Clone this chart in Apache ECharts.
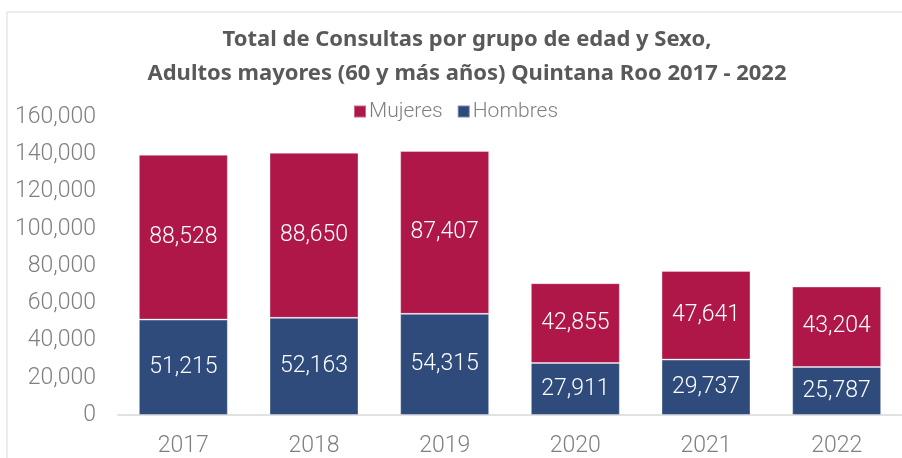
<!DOCTYPE html>
<html>
<head>
<meta charset="utf-8">
<script src="https://cdn.jsdelivr.net/npm/echarts@6/dist/echarts.min.js"></script>
<style>
    html, body { margin: 0; padding: 0; background: #fff; }
    #chart { width: 902px; height: 458px; }
</style>
</head>
<body>
<div id="chart"></div>
<script>
const years = ['2017', '2018', '2019', '2020', '2021', '2022']
const hombres = [51215, 52163, 54315, 27911, 29737, 25787]
const mujeres = [88528, 88650, 87407, 42855, 47641, 43204]

const fmt = v => Number(v).toLocaleString('en-US')
const font = 'Noto Sans'
const thin = 'Roboto'

const chart = echarts.init(document.getElementById('chart'))

const barLabel = {
    show: true,
    position: 'inside',
    color: '#ffffff',
    fontFamily: thin,
    fontWeight: 300,
    fontSize: 23,
    formatter: p => fmt(p.value)
}

chart.setOption({
    backgroundColor: '#ffffff',
    animation: false,
    title: {
        text: 'Total de Consultas por grupo de edad y Sexo,\nAdultos mayores (60 y más años) Quintana Roo 2017 - 2022',
        left: 462,
        textAlign: 'center',
        top: 18,
        textStyle: {
            fontFamily: font,
            fontWeight: 'bold',
            fontSize: 22,
            lineHeight: 34,
            color: '#595959'
        }
    },
    legend: {
        data: ['Mujeres', 'Hombres'],
        left: 348,
        top: 96,
        itemWidth: 12,
        itemHeight: 12,
        itemGap: 14,
        icon: 'rect',
        textStyle: { fontFamily: thin, fontWeight: 300, fontSize: 21, color: '#7f7f7f', padding: [0, 0, 0, -2] }
    },
    graphic: [
        { type: 'line', shape: { x1: 7, y1: 12, x2: 902, y2: 12 }, style: { stroke: '#d9d9d9', lineWidth: 1 } },
        { type: 'line', shape: { x1: 7, y1: 12, x2: 7, y2: 458 }, style: { stroke: '#d9d9d9', lineWidth: 1 } }
    ],
    grid: { left: 118, top: 117, width: 796, height: 303 },
    xAxis: {
        type: 'category',
        data: years,
        axisLine: { lineStyle: { color: '#d9d9d9', width: 1.5 } },
        axisTick: { show: false },
        axisLabel: { margin: 20, fontFamily: thin, fontWeight: 300, fontSize: 23, color: '#7f7f7f' }
    },
    yAxis: {
        type: 'value',
        min: 0,
        max: 160000,
        interval: 20000,
        axisLine: { show: false },
        axisTick: { show: false },
        splitLine: { show: false },
        axisLabel: { margin: 22, fontFamily: thin, fontWeight: 300, fontSize: 23, color: '#7f7f7f', formatter: v => fmt(v) }
    },
    series: [
        {
            name: 'Hombres',
            type: 'bar',
            stack: 'total',
            data: hombres,
            barWidth: 89,
            itemStyle: { color: '#2f4b7c', borderColor: 'rgba(255,255,255,0.35)', borderWidth: 1 },
            label: barLabel
        },
        {
            name: 'Mujeres',
            type: 'bar',
            stack: 'total',
            data: mujeres,
            barWidth: 89,
            itemStyle: { color: '#af1749', borderColor: 'rgba(255,255,255,0.35)', borderWidth: 1 },
            label: barLabel
        }
    ]
})
</script>
</body>
</html>
